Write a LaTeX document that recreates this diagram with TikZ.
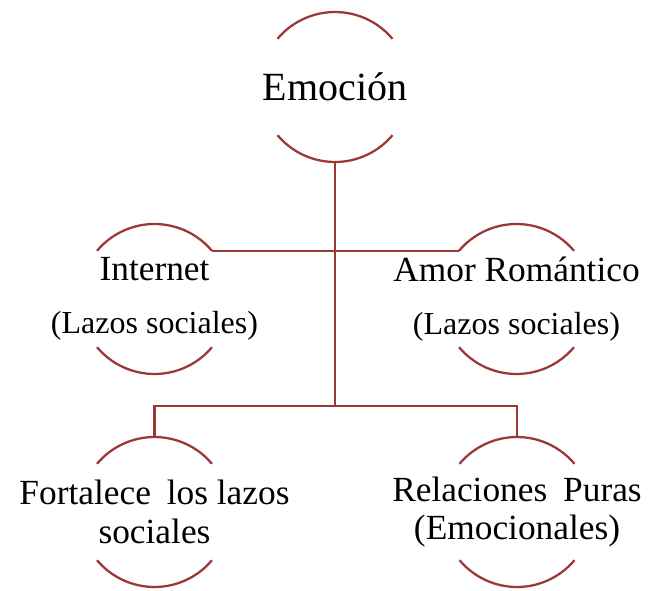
\documentclass[tikz,border=0pt]{standalone}
\usepackage{fontspec}
\setmainfont{Liberation Serif}
\definecolor{vino}{RGB}{155,55,55}

\begin{document}
\begin{tikzpicture}[x=0.75pt,y=0.75pt,
    arco/.style={draw=vino,line width=1.7pt},
    texto/.style={align=center,inner sep=0pt,font=\fontsize{26.5}{40}\selectfont}]
    \useasboundingbox (0,0) rectangle (649,590);
    \node[texto,font=\fontsize{30}{36}\selectfont] (emo) at (335,503) {Emoción};
    \node[texto] (int) at (154.5,291) {Internet\\{\fontsize{24}{40}\selectfont (Lazos sociales)}};
    \node[texto] (amor) at (516.5,291) {Amor Romántico\\{\fontsize{24}{40}\selectfont (Lazos sociales)}};
    \node[texto,font=\fontsize{26.5}{29}\selectfont] (fort) at (154.5,78) {Fortalece\hspace{0.45em}los lazos\\sociales};
    \node[texto,font=\fontsize{26.5}{29}\selectfont] (rel) at (517,78) {Relaciones\hspace{0.45em}Puras\\(Emocionales)};
    \foreach \n in {emo,int,amor,fort,rel} {
      \draw[arco] ([shift={(40:75)}]\n.center) arc[start angle=40,end angle=140,radius=75];
      \draw[arco] ([shift={(220:75)}]\n.center) arc[start angle=220,end angle=320,radius=75];
      \coordinate (\n-arriba) at ([shift={(90:75)}]\n.center);
    }
    \coordinate (emo-abajo) at ([shift={(270:75)}]emo.center);
    \coordinate (int-der) at ([shift={(40:75)}]int.center);
    \coordinate (amor-izq) at ([shift={(140:75)}]amor.center);
    \coordinate (bifur) at (335,184);
    \draw[arco] (emo-abajo) -- (bifur);
    \draw[arco] (int-der) -- (amor-izq);
    \draw[arco] (fort-arriba) |- (bifur) -| (rel-arriba);
\end{tikzpicture}
\end{document}
